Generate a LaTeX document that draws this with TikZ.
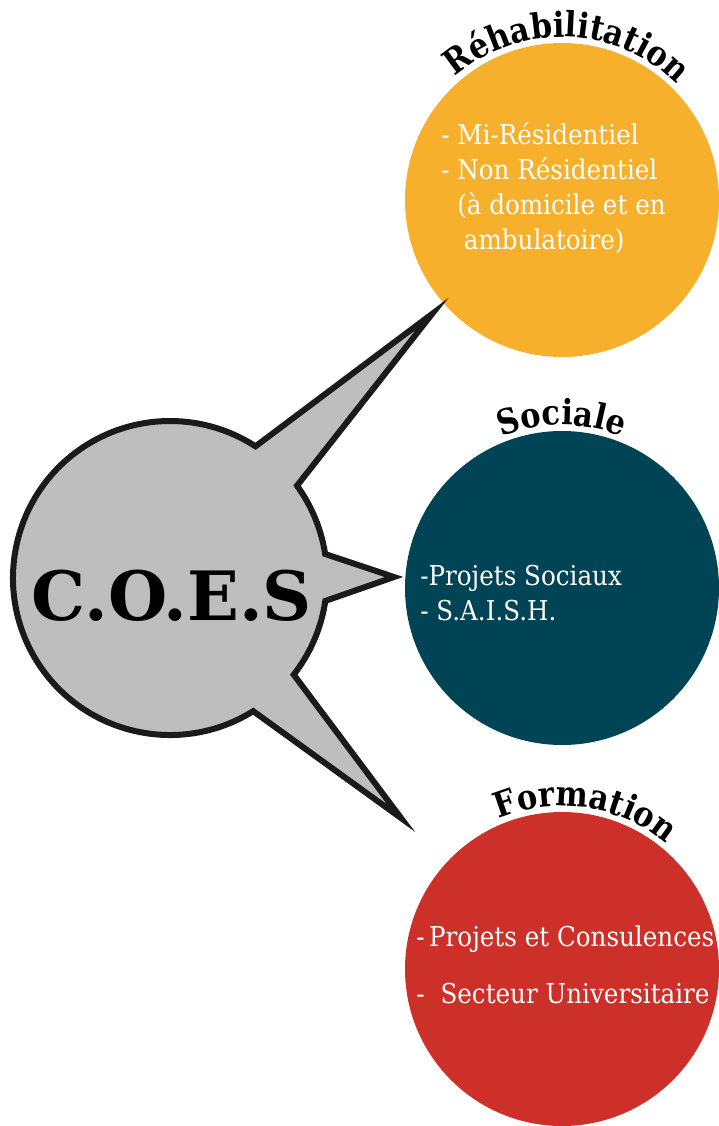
\documentclass[tikz,border=0pt]{standalone}
\usepackage{fontspec}
\setmainfont{DejaVu Serif}
\newfontfamily\itemfont{DejaVu Serif}[FakeStretch=0.9]
\newfontfamily\headfont{DejaVu Serif Bold}[FakeStretch=0.88]
\newfontfamily\coesfont{DejaVu Serif Bold}
\usetikzlibrary{calc, decorations.text}

\definecolor{rehaorange}{HTML}{F7B02B}
\definecolor{socialteal}{HTML}{004455}
\definecolor{formred}{HTML}{CC3029}
\definecolor{bubblegray}{HTML}{BEBEBE}
\definecolor{inkblack}{HTML}{1A1A1A}

\begin{document}
\begin{tikzpicture}[x=0.75pt, y=-0.75pt,
  pole/.style={circle, minimum size=235.5pt, inner sep=0pt},
  itemtext/.style={text=white, align=left, inner sep=0pt, anchor=base west, font=\itemfont\fontsize{20.5}{26.25}\selectfont},
  bubble/.style={draw=inkblack, fill=bubblegray, line width=4.5pt, line join=miter, miter limit=30},
  arctitle/.style={decorate, decoration={text along path, text align=center, text={|\headfont\fontsize{26}{26}\selectfont|#1}}}
]
\useasboundingbox (0,0) rectangle (718,1126);

% the three poles
\node[pole, fill=rehaorange] (reha) at (562,200) {};
\node[pole, fill=socialteal] (sociale) at (562,588) {};
\node[pole, fill=formred] (formation) at (562,969) {};

% speech bubble
\coordinate (coes) at (170,578);
\coordinate (tipreha) at (432,314);
\coordinate (tipsociale) at (394,577);
\coordinate (tipformation) at (401,818);
\draw[bubble] ($(coes)+(-57:157)$) -- (tipreha) -- ($(coes)+(-36:157)$)
  arc[start angle=-36, end angle=-8.8, radius=157] -- (tipsociale) -- ($(coes)+(8.4:157)$)
  arc[start angle=8.4, end angle=38, radius=157] -- (tipformation) -- ($(coes)+(58:157)$)
  arc[start angle=58, end angle=303, radius=157] -- cycle;
\node[font=\coesfont\fontsize{51}{51}\selectfont] (coestext) at (172,596) {C.O.E.S};

% titles
\path[arctitle={R{\'e}habilitation}] ($(reha.center)+(-155:163)$) arc[start angle=-155, end angle=-21, radius=163];
\path[arctitle=Sociale] ($(sociale.center)+(-150:163)$) arc[start angle=-150, end angle=-30, radius=163];
\path[arctitle=Formation] ($(formation.center)+(-150:163)$) arc[start angle=-150, end angle=-13, radius=163];

% items
\node[itemtext] (rehaitems) at (441,250) {- Mi-Résidentiel\\- Non Résidentiel\\\hspace{12pt}(à domicile et en\\\hspace{17pt}ambulatoire)};
\node[itemtext] (socialeitems) at (420,620) {-Projets Sociaux\\- S.A.I.S.H.};
\node[itemtext] (formationitems) at (416,1003) {-\,Projets et Consulences\\[16pt]-\hspace{12pt}Secteur Universitaire};

\end{tikzpicture}
\end{document}
